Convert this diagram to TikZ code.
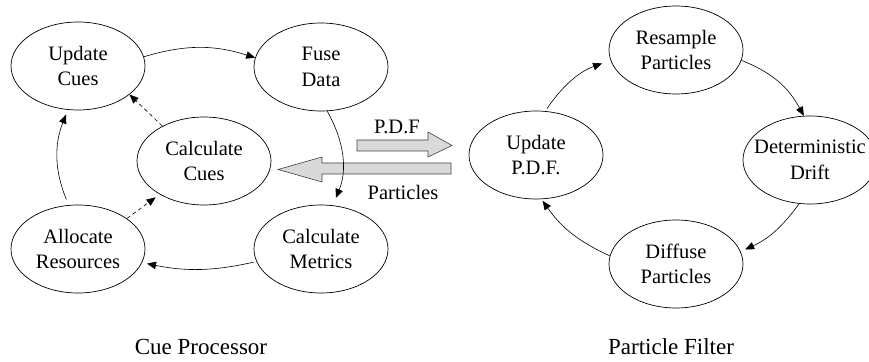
\documentclass[tikz,border=0pt]{standalone}
\usepackage{fontspec}
\setmainfont{Liberation Serif}
\usetikzlibrary{shapes.geometric,arrows.meta}
\begin{document}
\begin{tikzpicture}[x=1pt,y=1pt,
  stage/.style={ellipse, draw, line width=0.7pt, minimum width=134pt, minimum height=88pt,
    inner sep=0pt, align=center, font=\fontsize{20.5}{25.5}\selectfont},
  flow/.style={-{Triangle[length=9pt,width=7.5pt]}, line width=0.6pt},
  hint/.style={flow, dash pattern=on 4pt off 3pt},
  block/.style={draw=black!75, fill=black!15, line width=0.6pt},
  lbl/.style={font=\fontsize{20.5}{24}\selectfont, inner sep=0pt},
  caption/.style={font=\fontsize{23}{27}\selectfont, inner sep=0pt}]
\useasboundingbox (0,0) rectangle (869,361);

% Cue processor loop
\node[stage] (uc) at (78,295) {Update\\Cues};
\node[stage] (fd) at (321,294) {Fuse\\Data};
\node[stage] (cc) at (204,200) {Calculate\\Cues};
\node[stage] (ar) at (78,112) {Allocate\\Resources};
\node[stage] (cm) at (321,112) {Calculate\\Metrics};

% Particle filter loop
\node[stage] (up) at (536,206) {Update\\P.D.F.};
\node[stage] (rp) at (676,311) {Resample\\Particles};
\node[stage] (dd) at (810,201) {\makebox[0pt]{Deterministic}\\Drift};
\node[stage] (dp) at (676,97) {Diffuse\\Particles};

% Exchange between the two loops
\draw[block] (357,210) -- (428,210) -- (428,204) -- (452,215.5) -- (428,229) -- (428,221) -- (357,221) -- cycle;
\draw[block] (451,187) -- (322,187) -- (322,179) -- (278,191.5) -- (322,204) -- (322,198) -- (451,198) -- cycle;
\node[lbl] (pdf) at (397,234) {P.D.F};
\node[lbl] (prt) at (403,169) {Particles};

% Cue processor connectors
\draw[flow] (uc.8) to[bend left=17] (fd.172);
\draw[flow, shorten >=8pt] (fd.-82) to[bend left=26] (cm.75);
\draw[flow, shorten <=3pt, shorten >=5pt] (cm.191) to[bend left=12] (ar.-12);
\draw[flow, shorten <=6pt, shorten >=5pt] (ar.102) to[bend left=22] (uc.257);
\draw[hint] (cc.140) -- (uc.-29);
\draw[hint, shorten >=5pt] (ar.32) -- (cc.217);

% Particle filter connectors
\draw[flow, shorten <=3pt, shorten >=9pt] (up.78) to[bend left=18] (rp.189);
\draw[flow] (rp.-9) to[bend left=20] (dd.98);
\draw[flow, shorten >=5pt] (dd.256) to[bend left=15] (dp.11);
\draw[flow, shorten >=2pt] (dp.173) to[bend left=15] (up.-83);

% Captions
\node[caption, anchor=base] (cp) at (201,6) {Cue Processor};
\node[caption, anchor=base] (pf) at (671,6) {Particle Filter};
\end{tikzpicture}
\end{document}
